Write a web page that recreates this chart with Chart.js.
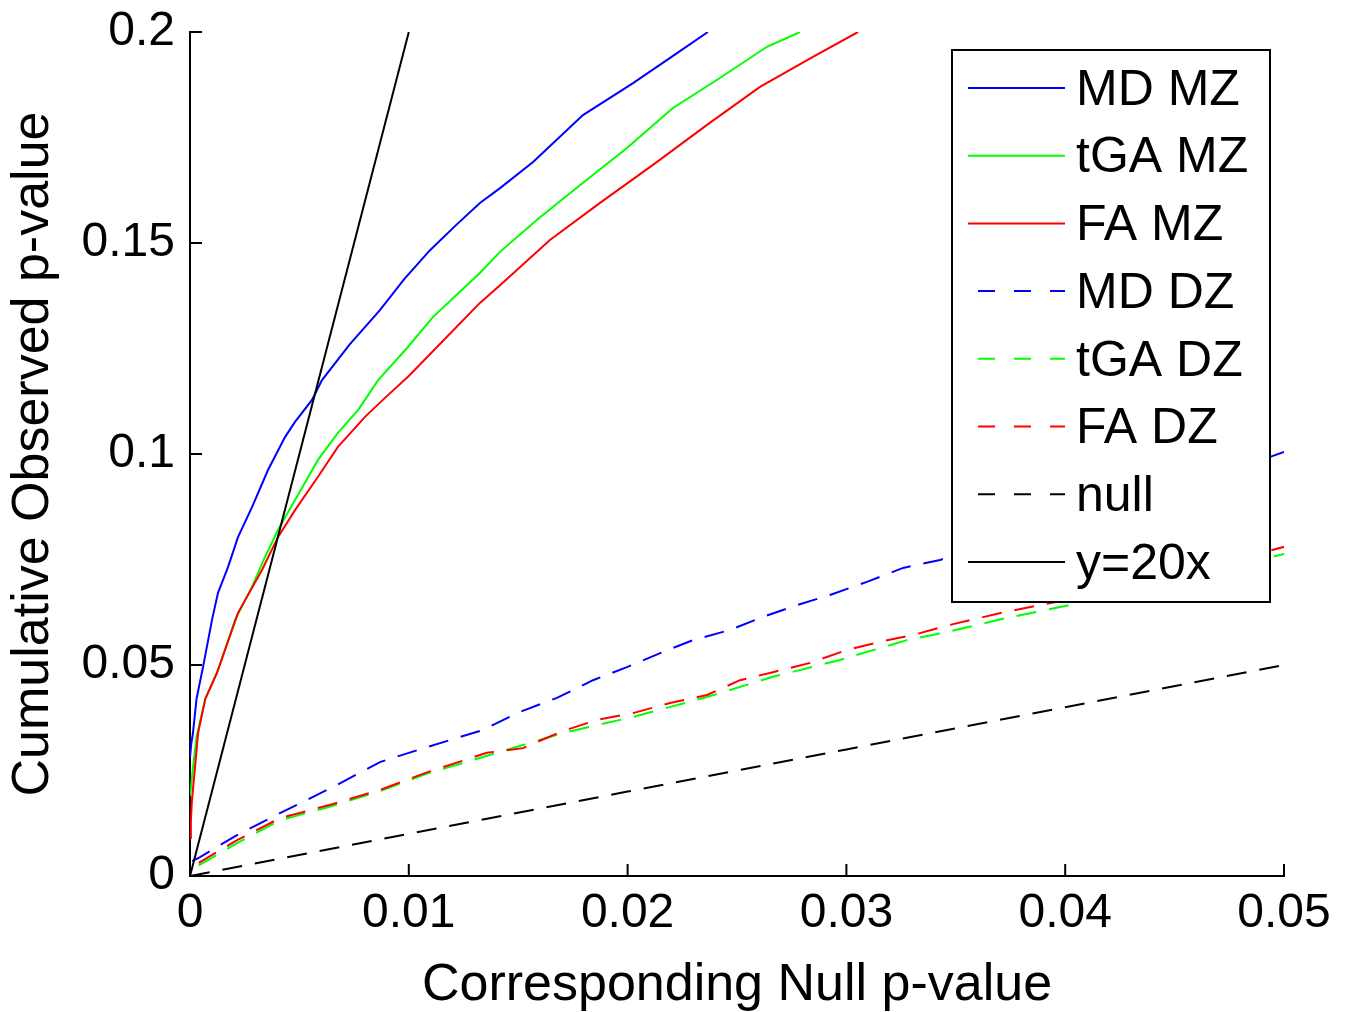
<!DOCTYPE html>
<html>
<head>
<meta charset="utf-8">
<script src="https://cdn.jsdelivr.net/npm/chart.js@4.4.0/dist/chart.umd.min.js"></script>
<style>
  html, body { margin: 0; padding: 0; background: #fff; }
  canvas { display: block; }
</style>
</head>
<body>
<canvas id="qqChart" width="1347" height="1012"></canvas>
<script>
// values
const xTicks = [0, 0.01, 0.02, 0.03, 0.04, 0.05];
const xTickLabels = ['0', '0.01', '0.02', '0.03', '0.04', '0.05'];
const yTicks = [0, 0.05, 0.1, 0.15, 0.2];
const yTickLabels = ['0', '0.05', '0.1', '0.15', '0.2'];

const seriesNames = ['MD MZ', 'tGA MZ', 'FA MZ', 'MD DZ', 'tGA DZ', 'FA DZ', 'null', 'y=20x'];

const mdMzX = [0, 0.00005, 0.000137, 0.0003, 0.000594, 0.001006, 0.00128, 0.001737, 0.002194, 0.002834, 0.003565, 0.004342, 0.004799, 0.005576, 0.006033, 0.0073, 0.00868, 0.0098, 0.01097, 0.01211, 0.01325, 0.01417, 0.01568, 0.01796, 0.02025, 0.02226, 0.02367];
const mdMzY = [0.028, 0.031, 0.034, 0.042, 0.0495, 0.0607, 0.0671, 0.0732, 0.0803, 0.0874, 0.0962, 0.104, 0.1076, 0.1128, 0.1175, 0.126, 0.1341, 0.1415, 0.1483, 0.154, 0.1595, 0.163, 0.1692, 0.1803, 0.1879, 0.195, 0.2];

const tgaMzX = [0, 0.00005, 0.0001, 0.0003, 0.0007, 0.00128, 0.00206, 0.00283, 0.00343, 0.00402, 0.0048, 0.00585, 0.00676, 0.00768, 0.0086, 0.0099, 0.01111, 0.01325, 0.01417, 0.01586, 0.01782, 0.01997, 0.02207, 0.02422, 0.02637, 0.02788];
const tgaMzY = [0.019, 0.021, 0.024, 0.033, 0.042, 0.0488, 0.0607, 0.0685, 0.0756, 0.082, 0.0891, 0.0986, 0.105, 0.1104, 0.1175, 0.125, 0.1325, 0.1429, 0.1479, 0.1555, 0.1637, 0.1725, 0.182, 0.1891, 0.1965, 0.2];

const faMzX = [0, 0.00004, 0.00009, 0.00023, 0.00037, 0.0007, 0.00123, 0.00219, 0.00329, 0.00402, 0.0048, 0.00585, 0.00676, 0.008, 0.00891, 0.01, 0.0116, 0.01325, 0.01417, 0.01645, 0.01874, 0.02116, 0.02363, 0.02605, 0.02847, 0.03053];
const faMzY = [0.009, 0.013, 0.018, 0.0258, 0.0339, 0.042, 0.0481, 0.0623, 0.0725, 0.0803, 0.0867, 0.0946, 0.1017, 0.1088, 0.1133, 0.1185, 0.127, 0.1358, 0.14, 0.1507, 0.1595, 0.1685, 0.178, 0.187, 0.1941, 0.2];

const mdDzX = [0.0001, 0.00046, 0.00215, 0.00411, 0.0065, 0.00868, 0.0108, 0.01339, 0.01508, 0.01677, 0.01842, 0.01997, 0.02162, 0.02299, 0.02468, 0.02619, 0.02774, 0.02925, 0.03094, 0.03259, 0.03428, 0.038, 0.042, 0.046, 0.05];
const mdDzY = [0.0035, 0.0045, 0.0097, 0.0149, 0.021, 0.027, 0.0305, 0.0346, 0.0389, 0.0422, 0.0464, 0.0495, 0.0531, 0.0559, 0.0583, 0.0614, 0.0642, 0.0666, 0.0697, 0.073, 0.0749, 0.081, 0.087, 0.093, 0.1005];

const tgaDzX = [0.0004, 0.00215, 0.00411, 0.0065, 0.00868, 0.0108, 0.01403, 0.01705, 0.02025, 0.02363, 0.02664, 0.02971, 0.03277, 0.0346, 0.0372, 0.04, 0.045, 0.05];
const tgaDzY = [0.0025, 0.0078, 0.0132, 0.0166, 0.0201, 0.0242, 0.0292, 0.0339, 0.0377, 0.0424, 0.0472, 0.0512, 0.0559, 0.0578, 0.061, 0.064, 0.0698, 0.0763];

const faDzX = [0.0004, 0.00215, 0.00411, 0.0065, 0.00868, 0.0108, 0.01357, 0.01522, 0.01691, 0.0186, 0.02025, 0.02194, 0.02363, 0.02514, 0.02664, 0.02834, 0.03003, 0.03154, 0.03305, 0.03473, 0.0372, 0.04, 0.045, 0.05];
const faDzY = [0.0031, 0.0085, 0.0137, 0.017, 0.0204, 0.0245, 0.0292, 0.0303, 0.0341, 0.037, 0.0386, 0.041, 0.0429, 0.0464, 0.0483, 0.0505, 0.0536, 0.0555, 0.0571, 0.0595, 0.0625, 0.0654, 0.071, 0.078];

const nullX = [0, 0.01, 0.02, 0.03, 0.04, 0.05];
const nullY = [0, 0.01, 0.02, 0.03, 0.04, 0.05];

const refX = [0, 0.01];
const refY = [0, 0.2];

const FONT = '"Liberation Sans", Arial, Helvetica, sans-serif';
Chart.defaults.font.family = FONT;
Chart.defaults.color = '#000';

const toPoints = (xs, ys) => xs.map((v, i) => ({ x: v, y: ys[i] }));

const DASH = [20, 13];
function series(i, xs, ys, color, dashed) {
    return {
        label: seriesNames[i],
        data: toPoints(xs, ys),
        borderColor: color,
        borderWidth: 2,
        borderDash: dashed ? DASH : [],
        pointRadius: 0,
        tension: 0,
        fill: false,
        order: 10 - i // later series on top, like matlab
    };
}

// ticks drawn inward, matlab style
const inwardTicks = {
    id: 'inwardTicks',
    afterDatasetsDraw(chart) {
        const { ctx, scales: { x, y } } = chart;
        ctx.save();
        ctx.strokeStyle = '#000';
        ctx.lineWidth = 2;
        ctx.beginPath();
        x.ticks.forEach(t => {
            const px = x.getPixelForValue(t.value);
            ctx.moveTo(px, y.bottom);
            ctx.lineTo(px, y.bottom - 12);
        });
        y.ticks.forEach(t => {
            const py = y.getPixelForValue(t.value);
            ctx.moveTo(x.left, py);
            ctx.lineTo(x.left + 12, py);
        });
        ctx.stroke();
        ctx.restore();
    }
};

// boxed legend in the upper right corner
const boxLegend = {
    id: 'boxLegend',
    afterDraw(chart) {
        const ctx = chart.ctx;
        const L = 952, T = 50, W = 318, H = 552;
        ctx.save();
        ctx.fillStyle = '#fff';
        ctx.fillRect(L, T, W, H);
        ctx.strokeStyle = '#000';
        ctx.lineWidth = 2;
        ctx.strokeRect(L, T, W, H);
        ctx.font = '50px ' + FONT;
        ctx.textBaseline = 'middle';
        chart.data.datasets.forEach((ds, i) => {
            const yy = 88 + i * 67.7;
            const dashed = ds.borderDash.length > 0;
            ctx.strokeStyle = ds.borderColor;
            ctx.lineWidth = 2;
            ctx.setLineDash(dashed ? [17, 19] : []);
            ctx.beginPath();
            ctx.moveTo(dashed ? 978 : 968, yy);
            ctx.lineTo(1065, yy);
            ctx.stroke();
            ctx.setLineDash([]);
            ctx.fillStyle = '#000';
            ctx.fillText(ds.label, 1076, yy + 3);
        });
        ctx.restore();
    }
};

new Chart(document.getElementById('qqChart'), {
    type: 'line',
    data: {
        datasets: [
            series(0, mdMzX, mdMzY, '#0000ff', false),
            series(1, tgaMzX, tgaMzY, '#00ff00', false),
            series(2, faMzX, faMzY, '#ff0000', false),
            series(3, mdDzX, mdDzY, '#0000ff', true),
            series(4, tgaDzX, tgaDzY, '#00ff00', true),
            series(5, faDzX, faDzY, '#ff0000', true),
            series(6, nullX, nullY, '#000000', true),
            series(7, refX, refY, '#000000', false)
        ]
    },
    options: {
        responsive: false,
        animation: false,
        layout: { padding: { left: 0, right: 63, top: 32, bottom: 0 } },
        plugins: {
            legend: { display: false },
            tooltip: { enabled: false }
        },
        scales: {
            x: {
                type: 'linear',
                min: 0,
                max: 0.05,
                afterBuildTicks: s => { s.ticks = xTicks.map(v => ({ value: v })); },
                afterFit: s => { s.height = 136; },
                grid: { display: false, drawTicks: false },
                border: { display: true, color: '#000', width: 2 },
                ticks: {
                    autoSkip: false,
                    maxRotation: 0,
                    padding: 14,
                    color: '#000',
                    font: { size: 48, lineHeight: 1 },
                    callback: (v, i) => xTickLabels[i]
                },
                title: {
                    display: true,
                    text: 'Corresponding Null p-value',
                    color: '#000',
                    font: { size: 52, lineHeight: 1 },
                    padding: { top: 0, bottom: 0 }
                }
            },
            y: {
                type: 'linear',
                min: 0,
                max: 0.2,
                afterBuildTicks: s => { s.ticks = yTicks.map(v => ({ value: v })); },
                afterFit: s => { s.width = 190; s.paddingTop = 0; s.paddingBottom = 0; },
                grid: { display: false, drawTicks: false },
                border: { display: true, color: '#000', width: 2 },
                ticks: {
                    autoSkip: false,
                    padding: 15,
                    color: '#000',
                    font: { size: 48, lineHeight: 1 },
                    callback: (v, i) => yTickLabels[i]
                },
                title: {
                    display: true,
                    text: 'Cumulative Observed p-value',
                    color: '#000',
                    font: { size: 52, lineHeight: 1 },
                    padding: { top: 8, bottom: 0 }
                }
            }
        }
    },
    plugins: [inwardTicks, boxLegend]
});
</script>
</body>
</html>
